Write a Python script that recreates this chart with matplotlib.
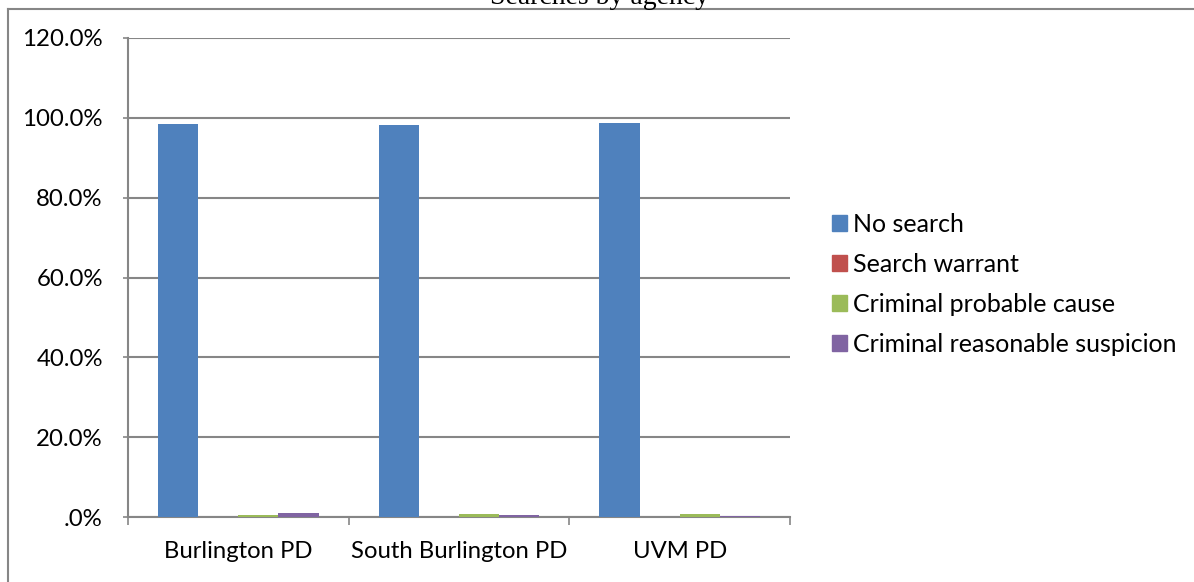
import matplotlib
matplotlib.use("Agg")
import matplotlib.pyplot as plt
import numpy as np
from matplotlib.lines import Line2D
from matplotlib.patches import Rectangle

agencies = ["Burlington PD", "South Burlington PD", "UVM PD"]
series_names = ["No search", "Search warrant", "Criminal probable cause",
                "Criminal reasonable suspicion"]
no_search = [98.5, 98.2, 98.7]
search_warrant = [0.0, 0.0, 0.0]
probable_cause = [0.4, 0.7, 0.7]
reasonable_suspicion = [0.9, 0.6, 0.2]
y_ticks = [0, 20, 40, 60, 80, 100, 120]

colors = ["#4F81BD", "#C0504D", "#9BBB59", "#8064A2"]
grid_color = "#868686"
font = ["Lato", "DejaVu Sans"]

W, H = 1194, 582
fig = plt.figure(figsize=(W / 100, H / 100), dpi=100)
ax = fig.add_axes([128 / W, (H - 517) / H, (790 - 128) / W, (517 - 38) / H])

series = [no_search, search_warrant, probable_cause, reasonable_suspicion]
x = np.arange(len(agencies))
bw = 1 / 5.5
for i, (vals, name, c) in enumerate(zip(series, series_names, colors)):
    ax.bar(x + (i - 1.5) * bw, vals, width=bw, color=c, label=name,
           linewidth=0, zorder=3)

ax.set_xlim(-0.5, len(agencies) - 0.5)
ax.set_ylim(0, 120)
ax.set_yticks(y_ticks)
ax.set_yticklabels([".0%" if v == 0 else f"{v:.1f}%" for v in y_ticks],
                   fontfamily=font, fontsize=17.3)
ax.yaxis.grid(True, color=grid_color, linewidth=1.5, zorder=1)
ax.tick_params(axis="y", direction="out", length=3.6, width=1.2,
               color=grid_color, pad=14.5)

ax.set_xticks(np.arange(-0.5, len(agencies)))
ax.set_xticklabels([])
ax.set_xticks(x, minor=True)
ax.set_xticklabels(agencies, minor=True, fontfamily=font, fontsize=17.2)
ax.tick_params(axis="x", which="major", direction="out", length=6,
               width=1.2, color=grid_color)
ax.tick_params(axis="x", which="minor", length=0, pad=17)

for s in ["top", "right"]:
    ax.spines[s].set_visible(False)
for s in ["left", "bottom"]:
    ax.spines[s].set_color(grid_color)
    ax.spines[s].set_linewidth(1.5)

# legend to the right of the plot area
handles = [Rectangle((0, 0), 1, 1, color=c) for c in colors]
fig.legend(handles, series_names, loc="center left",
           bbox_to_anchor=(822 / W, 1 - 284 / H), frameon=False,
           prop={"family": font, "size": 18}, handlelength=0.6,
           handleheight=0.6, handletextpad=0.25, labelspacing=0.68,
           borderaxespad=0)

# outer chart border
fig.add_artist(Line2D([8 / W, 1], [1 - 9 / H, 1 - 9 / H], color=grid_color,
                      linewidth=1.5, transform=fig.transFigure))
fig.add_artist(Line2D([8 / W, 8 / W], [0, 1 - 9 / H], color=grid_color,
                      linewidth=1.5, transform=fig.transFigure))

fig.text(600 / W, 1 - 4 / H, "Searches by agency", ha="center",
         va="baseline", fontfamily=["Liberation Serif"], fontsize=20)

fig.savefig("out.png", dpi=100, facecolor="white")
